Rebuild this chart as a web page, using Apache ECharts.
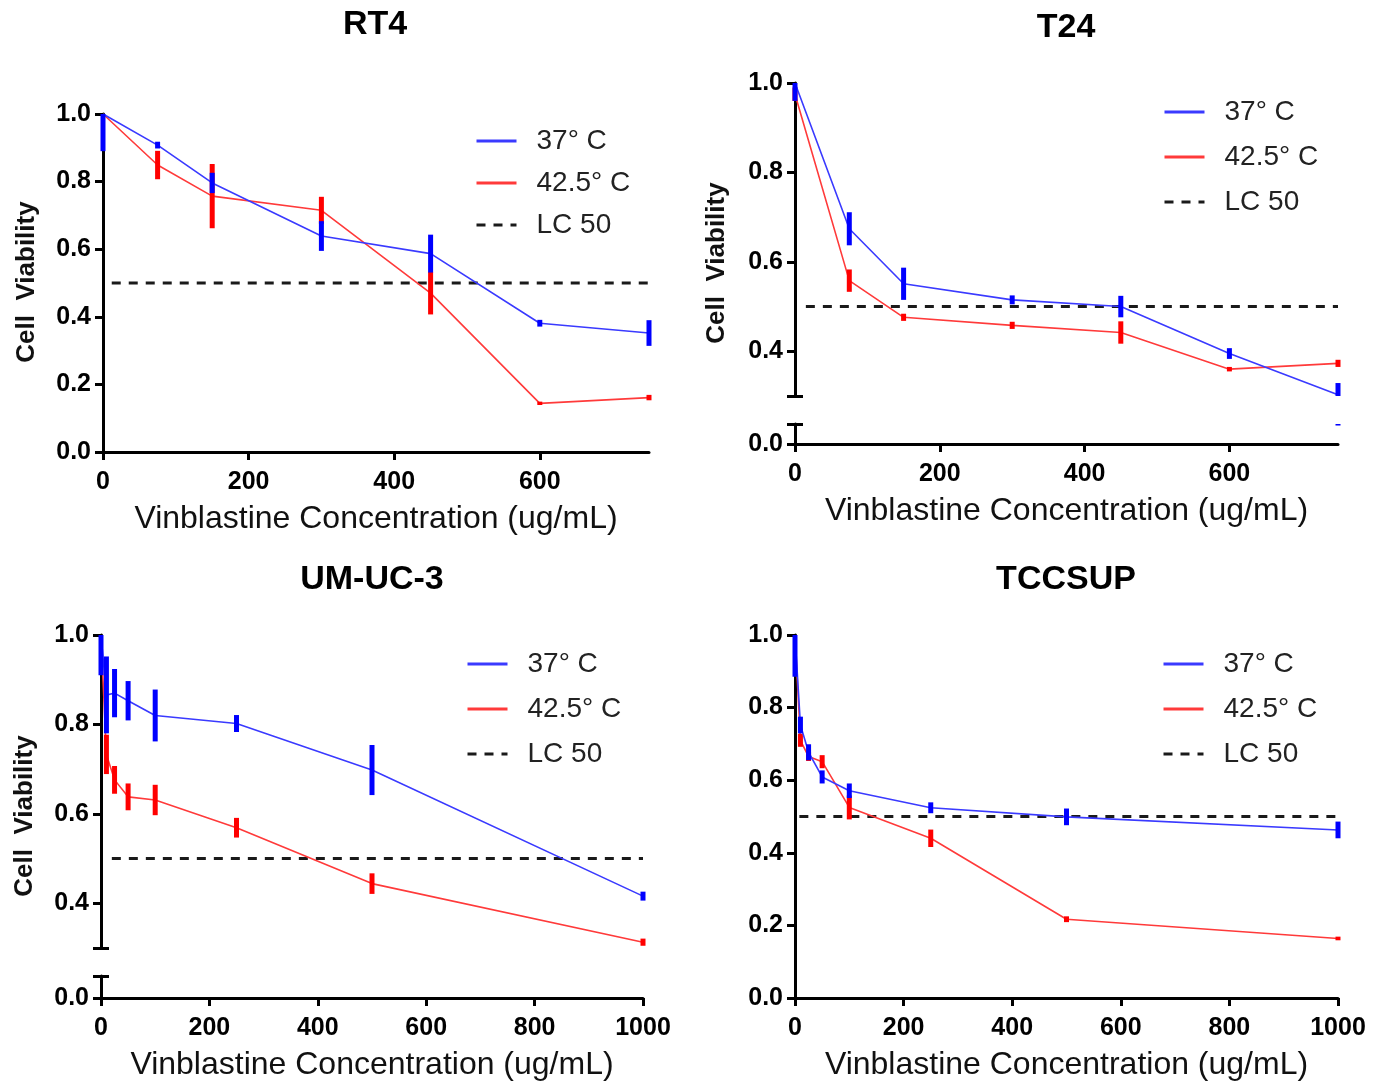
<!DOCTYPE html>
<html><head><meta charset="utf-8">
<script src="https://cdn.jsdelivr.net/npm/echarts@6/dist/echarts.min.js"></script>
<style>html,body{margin:0;padding:0;background:#fff}#c{width:1382px;height:1084px}</style>
</head><body><div id="c"></div>
<script>
// ---------------- DATA ----------------
const seriesNames = ['37° C', '42.5° C', 'LC 50'];
const lc50 = 0.5;

const rt4Dose   = [0, 75, 150, 300, 450, 600, 750];
const rt4Mean37 = [1.0, 0.908, 0.796, 0.639, 0.587, 0.381, 0.352];
const rt4Err37  = [0.11, 0.01, 0.03, 0.044, 0.056, 0.01, 0.038];
const rt4Mean42 = [1.0, 0.849, 0.757, 0.715, 0.470, 0.144, 0.161];
const rt4Err42  = [0, 0.042, 0.095, 0.04, 0.063, 0.005, 0.008];

const t24Dose   = [0, 75, 150, 300, 450, 600, 750];
const t24Mean37 = [1.0, 0.674, 0.551, 0.515, 0.5, 0.395, 0.303];
const t24Err37  = [0.04, 0.037, 0.036, 0.01, 0.024, 0.012, 0.026];
const t24Mean42 = [0.975, 0.558, 0.476, 0.458, 0.442, 0.36, 0.373];
const t24Err42  = [0.015, 0.025, 0.008, 0.008, 0.025, 0.005, 0.008];

const umDose   = [0, 10, 25, 50, 100, 250, 500, 1000];
const umMean37 = [1.0, 0.866, 0.87, 0.853, 0.82, 0.802, 0.698, 0.416];
const umErr37  = [0.09, 0.086, 0.054, 0.044, 0.058, 0.019, 0.056, 0.01];
const umMean42 = [1.0, 0.733, 0.676, 0.638, 0.631, 0.569, 0.444, 0.313];
const umErr42  = [0, 0.044, 0.031, 0.03, 0.034, 0.022, 0.023, 0.008];

const tcDose   = [0, 10, 25, 50, 100, 250, 500, 1000];
const tcMean37 = [1.0, 0.752, 0.677, 0.609, 0.571, 0.524, 0.499, 0.463];
const tcErr37  = [0.115, 0.023, 0.022, 0.018, 0.02, 0.015, 0.023, 0.023];
const tcMean42 = [1.0, 0.71, 0.665, 0.651, 0.525, 0.44, 0.217, 0.164];
const tcErr42  = [0, 0.018, 0.012, 0.018, 0.033, 0.024, 0.008, 0.005];

const yTicksFull   = [0, 0.2, 0.4, 0.6, 0.8, 1.0];
const yLabelsUpper = [0.4, 0.6, 0.8, 1.0];
const xTicks750    = [0, 200, 400, 600];
const xTicks1000   = [0, 200, 400, 600, 800, 1000];

// ---------------- STYLE ----------------
const FONT = '"Liberation Sans", Arial, Helvetica, sans-serif';
const BLUE_LINE = '#3a3aff', BLUE_BAR = '#0000ff';
const RED_LINE = '#ff3a3a', RED_BAR = '#ff0000';
const XNAME = 'Vinblastine Concentration (ug/mL)';

const grids = [], xAxes = [], yAxes = [], series = [], legends = [], graphics = [];

const axisLineS = { show: true, onZero: false, lineStyle: { color: '#000', width: 3 } };
const tickS = (vals, inside) => ({ show: true, inside: !!inside, length: 8, customValues: vals, lineStyle: { color: '#000', width: 3 } });
const labelS = (vals) => ({ show: true, customValues: vals, margin: 12, color: '#000', fontSize: 25, fontWeight: 'bold', fontFamily: FONT, formatter: v => (+v).toFixed(1) });

function renderErr(params, api) {
  const x = api.value(0), lo = api.value(1), hi = api.value(2);
  if (!(hi > lo)) return null;
  const pt = api.coord([x, hi]), pb = api.coord([x, lo]);
  const cs = params.coordSys;
  const top = Math.max(pt[1], cs.y), bot = Math.min(pb[1], cs.y + cs.height);
  if (bot <= top) return null;
  return { type: 'rect', shape: { x: pt[0] - 2.5, y: top, width: 5, height: bot - top }, style: { fill: api.visual('color') } };
}
const errData = (x, m, e) => x.map((v, i) => [v, +(m[i] - e[i]).toFixed(4), +(m[i] + e[i]).toFixed(4)]);
const lineData = (x, m) => x.map((v, i) => [v, m[i]]);

function addDataSeries(xi, yi, p, withLines) {
  if (withLines) {
    series.push({ type: 'line', name: 'LC 50', xAxisIndex: xi, yAxisIndex: yi, symbol: 'none', silent: true,
      data: [[p.lcFrom, lc50], [p.xMax, lc50]], lineStyle: { color: '#1a1a1a', width: 3, type: [9, 8] },
      itemStyle: { color: '#1a1a1a' }, z: 3 });
    series.push({ type: 'line', name: '42.5° C', xAxisIndex: xi, yAxisIndex: yi, symbol: 'none', silent: true,
      data: lineData(p.dose, p.m42), lineStyle: { color: RED_LINE, width: 1.6 }, itemStyle: { color: RED_LINE }, z: 4 });
  }
  series.push({ type: 'custom', name: 'err42', xAxisIndex: xi, yAxisIndex: yi, silent: true, renderItem: renderErr,
    encode: { x: 0, y: [1, 2] }, itemStyle: { color: RED_BAR }, data: errData(p.dose, p.m42, p.e42), z: 5 });
  if (withLines) {
    series.push({ type: 'line', name: '37° C', xAxisIndex: xi, yAxisIndex: yi, symbol: 'none', silent: true,
      data: lineData(p.dose, p.m37), lineStyle: { color: BLUE_LINE, width: 1.6 }, itemStyle: { color: BLUE_LINE }, z: 6 });
  }
  series.push({ type: 'custom', name: 'err37', xAxisIndex: xi, yAxisIndex: yi, silent: true, renderItem: renderErr,
    encode: { x: 0, y: [1, 2] }, itemStyle: { color: BLUE_BAR }, data: errData(p.dose, p.m37, p.e37), z: 7 });
}

function xAxisVisible(gi, p) {
  return { type: 'value', gridIndex: gi, min: 0, max: p.xMax, interval: 200, axisLine: axisLineS,
    axisTick: { show: true, length: 8, customValues: p.xTicks, lineStyle: { color: '#000', width: 3 } },
    axisLabel: { show: true, customValues: p.xTicks, margin: 18, color: '#000', fontSize: 25, fontWeight: 'bold', fontFamily: FONT,
      formatter: v => String(Math.round(v)) },
    splitLine: { show: false },
    name: XNAME, nameLocation: 'middle', nameGap: 51,
    nameTextStyle: { fontSize: 32, color: '#111', fontFamily: FONT } };
}

function pushX(a) { xAxes.push(a); return xAxes.length - 1; }
function pushY(a) { yAxes.push(a); return yAxes.length - 1; }

function panel(p) {
  if (!p.broken) {
    const gi = grids.length;
    grids.push({ left: p.left, top: p.top, width: p.width, height: p.height });
    const xi = pushX(xAxisVisible(gi, p));
    const yi = pushY({ type: 'value', gridIndex: gi, min: 0, max: 1, interval: 0.2, axisLine: axisLineS,
      axisTick: tickS(yTicksFull), axisLabel: labelS(yTicksFull), splitLine: { show: false } });
    addDataSeries(xi, yi, p, true);
  } else {
    // upper segment 0.3 - 1.0
    const gu = grids.length;
    grids.push({ left: p.left, top: p.top, width: p.width, height: p.height });
    const xu = pushX({ type: 'value', gridIndex: gu, min: 0, max: p.xMax, show: false, splitLine: { show: false } });
    const yu = pushY({ type: 'value', gridIndex: gu, min: 0.3, max: 1, axisLine: axisLineS,
      axisTick: tickS([0.3, 0.4, 0.6, 0.8, 1.0]), axisLabel: labelS(yLabelsUpper), splitLine: { show: false } });
    addDataSeries(xu, yu, p, true);
    // lower segment 0 - 0.3 (compressed)
    const gl = grids.length;
    grids.push({ left: p.left, top: p.lowTop, width: p.width, height: p.lowHeight });
    const xl = pushX(xAxisVisible(gl, p));
    const yl = pushY({ type: 'value', gridIndex: gl, min: 0, max: 0.3, axisLine: axisLineS,
      axisTick: tickS([0, 0.3]), axisLabel: labelS([0]), splitLine: { show: false } });
    addDataSeries(xl, yl, p, false);
    // inner caps at the break (extra axes, ticks only)
    pushY({ type: 'value', gridIndex: gu, min: 0.3, max: 1, position: 'left', axisLine: { show: false },
      axisTick: tickS([0.3], true), axisLabel: { show: false }, splitLine: { show: false } });
    pushY({ type: 'value', gridIndex: gl, min: 0, max: 0.3, position: 'left', axisLine: { show: false },
      axisTick: tickS([0.3], true), axisLabel: { show: false }, splitLine: { show: false } });
  }
  legends.push({ orient: 'vertical', left: p.legLeft, top: p.legTop, padding: 5, itemWidth: 40, itemHeight: 14,
    itemGap: p.legGap, data: seriesNames, selectedMode: false,
    lineStyle: { width: 3 }, itemStyle: { opacity: 0 },
    textStyle: { fontSize: 28, color: '#222', fontFamily: FONT, padding: [0, 0, 0, 15] } });
  graphics.push({ type: 'text', x: p.titleX, y: p.titleY,
    style: { text: p.title, fontSize: 34, fontWeight: 'bold', fontFamily: FONT, fill: '#000',
      align: 'center', verticalAlign: 'middle', textAlign: 'center', textVerticalAlign: 'middle' } });
  if (p.yNameX !== undefined) {
    graphics.push({ type: 'text', x: p.yNameX, y: p.yNameY, rotation: Math.PI / 2,
      style: { text: 'Cell  Viability', fontSize: 26, fontWeight: 'bold', fontFamily: FONT, fill: '#111',
        align: 'center', verticalAlign: 'middle', textAlign: 'center', textVerticalAlign: 'middle' } });
  }
}

panel({ title: 'RT4', titleX: 375, titleY: 25, broken: false,
  left: 103, top: 114, width: 546, height: 338, xMax: 750, xTicks: xTicks750, lcFrom: 12,
  dose: rt4Dose, m37: rt4Mean37, e37: rt4Err37, m42: rt4Mean42, e42: rt4Err42,
  legLeft: 470, legTop: 122, legGap: 14, yNameX: 27, yNameY: 282 });

panel({ title: 'T24', titleX: 1066, titleY: 28, broken: true,
  left: 795, top: 83, width: 543, height: 313, lowTop: 424, lowHeight: 20, xMax: 750, xTicks: xTicks750, lcFrom: 15,
  dose: t24Dose, m37: t24Mean37, e37: t24Err37, m42: t24Mean42, e42: t24Err42,
  legLeft: 1158, legTop: 93, legGap: 17, yNameX: 717, yNameY: 263 });

panel({ title: 'UM-UC-3', titleX: 372, titleY: 580, broken: true,
  left: 101, top: 635, width: 542, height: 313, lowTop: 976, lowHeight: 22, xMax: 1000, xTicks: xTicks1000, lcFrom: 20,
  dose: umDose, m37: umMean37, e37: umErr37, m42: umMean42, e42: umErr42,
  legLeft: 461, legTop: 645, legGap: 17, yNameX: 25, yNameY: 816 });

panel({ title: 'TCCSUP', titleX: 1066, titleY: 580, broken: false,
  left: 795, top: 635, width: 543, height: 363, xMax: 1000, xTicks: xTicks1000, lcFrom: 8,
  dose: tcDose, m37: tcMean37, e37: tcErr37, m42: tcMean42, e42: tcErr42,
  legLeft: 1157, legTop: 645, legGap: 17 });

const chart = echarts.init(document.getElementById('c'), null, { renderer: 'canvas' });
chart.setOption({
  animation: false,
  backgroundColor: '#fff',
  grid: grids, xAxis: xAxes, yAxis: yAxes, series: series, legend: legends,
  graphic: { elements: graphics }
});
</script></body></html>
